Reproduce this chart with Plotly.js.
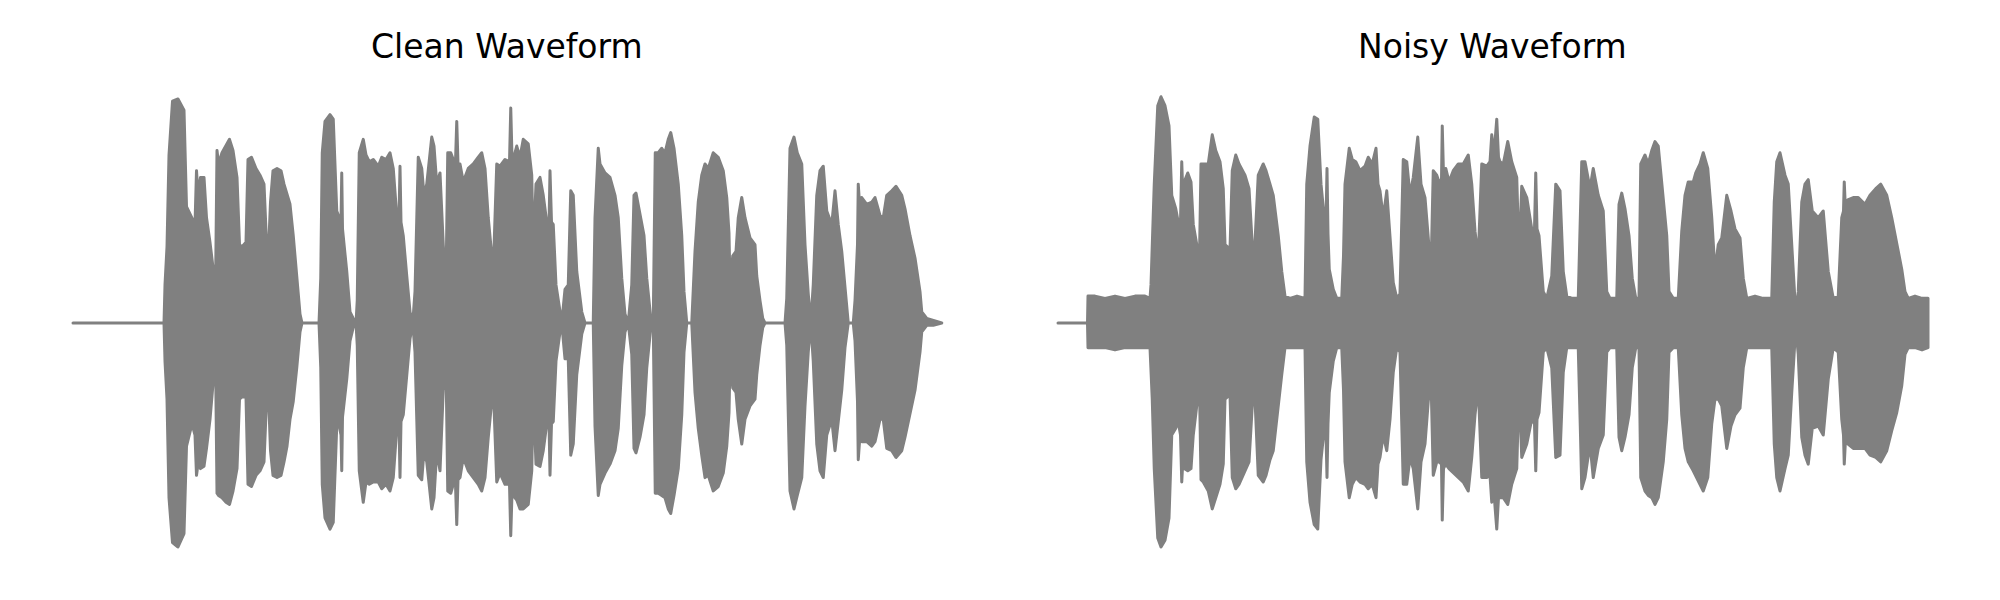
<!DOCTYPE html>
<html>
<head>
<meta charset="utf-8">
<script src="https://cdn.plot.ly/plotly-3.0.1.min.js"></script>
<style>html,body{margin:0;padding:0;background:#fff;}#chart{width:2000px;height:600px;}#chart path.js-line{stroke-linejoin:round;stroke-linecap:round;}</style>
</head>
<body>
<div id="chart"></div>
<script>
// Panel titles
const titles = ["Clean Waveform", "Noisy Waveform"];

// Clean waveform envelope (time in ms, amplitude normalised)
const cleanT = [0,364,368,376,384,398,420,444,454,476,488,494,500,510,524,534,548,564,570,576,582,596,612,626,640,656,666,676,692,700,714,732,748,764,774,782,790,800,816,832,844,856,868,881,895,908,916,984,991,997,1008,1028,1041,1055,1065,1072,1075,1078,1095,1108,1121,1132,1137,1145,1161,1172,1185,1201,1221,1235,1252,1268,1281,1295,1304,1308,1312,1321,1335,1348,1359,1368,1381,1395,1404,1415,1435,1444,1455,1468,1481,1492,1499,1511,1521,1530,1535,1540,1548,1561,1581,1601,1621,1635,1648,1661,1681,1695,1708,1728,1746,1751,1756,1761,1775,1788,1801,1821,1835,1841,1852,1868,1881,1895,1904,1908,1914,1921,1932,1948,1955,1968,1981,1991,2001,2015,2035,2048,2081,2088,2101,2108,2128,2148,2168,2181,2195,2208,2221,2235,2244,2252,2268,2284,2295,2311,2321,2329,2341,2355,2368,2381,2391,2404,2421,2435,2444,2455,2475,2488,2501,2515,2528,2541,2561,2581,2601,2615,2624,2628,2639,2652,2661,2675,2688,2708,2728,2735,2748,2759,2768,2848,2855,2868,2884,2897,2915,2928,2941,2951,2961,2975,2988,3001,3015,3035,3048,3061,3075,3088,3101,3121,3128,3138,3141,3148,3155,3175,3195,3208,3228,3241,3255,3275,3292,3315,3328,3348,3368,3388,3395,3415,3441,3475];
const cleanTop = [0,0,0.17,0.34,0.75,0.99,1.00,0.95,0.52,0.47,0.44,0.68,0.57,0.65,0.65,0.47,0.36,0.21,0.14,0.77,0.71,0.76,0.79,0.82,0.77,0.65,0.35,0.34,0.36,0.73,0.74,0.69,0.66,0.62,0.36,0.32,0.54,0.68,0.69,0.68,0.62,0.58,0.53,0.39,0.20,0.04,0,0,0.20,0.76,0.90,0.93,0.91,0.50,0.47,0.45,0.67,0.42,0.23,0.05,0.02,0,0.10,0.76,0.82,0.75,0.72,0.73,0.70,0.74,0.73,0.76,0.69,0.48,0.47,0.70,0.45,0.39,0.21,0.05,0,0.14,0.74,0.69,0.57,0.62,0.83,0.79,0.62,0.67,0.35,0.17,0.76,0.76,0.73,0.72,0.90,0.71,0.71,0.63,0.69,0.71,0.74,0.76,0.69,0.47,0.23,0.71,0.70,0.73,0.72,0.96,0.74,0.73,0.79,0.74,0.82,0.80,0.66,0.32,0.62,0.65,0.57,0.45,0.43,0.68,0.45,0.44,0.17,0.04,0,0.15,0.17,0.59,0.57,0.23,0.05,0,0,0.47,0.78,0.71,0.67,0.65,0.57,0.47,0.20,0.04,0,0.17,0.57,0.58,0.48,0.39,0.20,0.02,0,0.76,0.76,0.78,0.76,0.82,0.85,0.78,0.62,0.39,0.14,0,0,0.32,0.54,0.66,0.71,0.69,0.76,0.74,0.68,0.56,0.40,0.17,0.30,0.32,0.47,0.56,0.47,0.38,0.35,0.21,0.10,0.02,0,0,0.11,0.78,0.83,0.76,0.71,0.35,0.13,0,0.17,0.57,0.68,0.70,0.50,0.44,0.59,0.44,0.32,0.14,0,0,0.10,0.35,0.62,0.50,0.56,0.53,0.54,0.56,0.48,0.47,0.57,0.59,0.61,0.57,0.51,0.39,0.29,0.14,0.05,0.02,0.01,0];
const cleanBottom = [0,0,-0.17,-0.34,-0.78,-0.98,-1.00,-0.94,-0.55,-0.45,-0.50,-0.68,-0.63,-0.65,-0.64,-0.56,-0.43,-0.22,-0.14,-0.76,-0.77,-0.78,-0.80,-0.81,-0.75,-0.65,-0.34,-0.33,-0.33,-0.72,-0.73,-0.68,-0.66,-0.62,-0.35,-0.32,-0.57,-0.68,-0.69,-0.68,-0.62,-0.55,-0.43,-0.35,-0.20,-0.04,0,0,-0.20,-0.72,-0.87,-0.92,-0.89,-0.46,-0.46,-0.50,-0.66,-0.42,-0.25,-0.08,-0.02,0,-0.10,-0.66,-0.80,-0.71,-0.72,-0.71,-0.71,-0.74,-0.72,-0.75,-0.69,-0.47,-0.45,-0.69,-0.44,-0.41,-0.25,-0.07,0,-0.13,-0.68,-0.70,-0.57,-0.62,-0.83,-0.78,-0.57,-0.66,-0.30,-0.18,-0.75,-0.76,-0.72,-0.72,-0.90,-0.70,-0.69,-0.60,-0.66,-0.69,-0.72,-0.75,-0.69,-0.51,-0.28,-0.71,-0.67,-0.72,-0.72,-0.95,-0.76,-0.77,-0.79,-0.83,-0.83,-0.81,-0.66,-0.31,-0.63,-0.64,-0.57,-0.45,-0.44,-0.68,-0.45,-0.44,-0.17,-0.04,0,-0.16,-0.16,-0.59,-0.54,-0.23,-0.05,0,0,-0.46,-0.77,-0.72,-0.67,-0.63,-0.57,-0.47,-0.19,-0.04,0,-0.14,-0.56,-0.58,-0.51,-0.41,-0.20,-0.02,0,-0.76,-0.76,-0.77,-0.78,-0.83,-0.85,-0.77,-0.65,-0.41,-0.13,0,0,-0.31,-0.47,-0.59,-0.69,-0.68,-0.75,-0.73,-0.67,-0.55,-0.40,-0.17,-0.29,-0.31,-0.43,-0.54,-0.43,-0.37,-0.34,-0.23,-0.10,-0.02,0,0,-0.10,-0.75,-0.83,-0.77,-0.69,-0.37,-0.13,0,-0.17,-0.54,-0.66,-0.69,-0.50,-0.43,-0.57,-0.44,-0.30,-0.11,0,0,-0.08,-0.35,-0.61,-0.50,-0.53,-0.53,-0.55,-0.53,-0.43,-0.43,-0.56,-0.57,-0.60,-0.57,-0.51,-0.41,-0.30,-0.13,-0.04,-0.01,-0.01,0];

// Noisy waveform envelope (time in ms, amplitude normalised)
const noisyT = [0,118,120,148,188,228,268,308,348,368,372,377,385,399,412,428,444,455,471,481,490,495,500,505,519,532,541,555,565,572,581,601,617,631,648,661,668,688,697,711,724,748,764,777,788,801,821,832,848,861,881,895,908,928,956,988,995,1008,1025,1039,1052,1065,1072,1076,1080,1085,1101,1115,1135,1142,1148,1165,1177,1191,1208,1228,1241,1257,1272,1280,1288,1301,1315,1328,1341,1355,1368,1381,1395,1408,1421,1439,1452,1468,1481,1492,1501,1515,1524,1534,1537,1542,1551,1564,1581,1601,1621,1641,1655,1668,1681,1695,1715,1728,1735,1744,1755,1762,1768,1781,1799,1815,1835,1844,1855,1875,1895,1906,1911,1916,1924,1941,1955,1975,1991,2008,2021,2035,2056,2081,2090,2095,2108,2128,2141,2161,2181,2195,2208,2235,2244,2255,2268,2284,2297,2311,2324,2331,2348,2361,2375,2388,2401,2421,2435,2444,2461,2481,2495,2508,2521,2541,2551,2568,2581,2599,2615,2628,2641,2655,2675,2692,2708,2728,2741,2755,2788,2820,2855,2865,2875,2888,2908,2921,2935,2951,2961,2975,2988,3001,3017,3041,3061,3081,3101,3121,3135,3142,3145,3150,3159,3181,3201,3228,3248,3271,3291,3315,3335,3355,3375,3388,3401,3428,3456,3480];
const noisyTop = [0,0,0.12,0.12,0.11,0.12,0.11,0.12,0.12,0.11,0.17,0.36,0.62,0.97,1.01,0.97,0.88,0.57,0.51,0.45,0.45,0.72,0.55,0.63,0.67,0.63,0.44,0.35,0.23,0.71,0.71,0.71,0.84,0.77,0.72,0.60,0.35,0.33,0.68,0.75,0.71,0.66,0.60,0.35,0.36,0.66,0.71,0.68,0.62,0.57,0.39,0.23,0.12,0.11,0.12,0.11,0.62,0.79,0.92,0.91,0.62,0.47,0.45,0.69,0.40,0.24,0.15,0.11,0.11,0.30,0.62,0.78,0.73,0.72,0.68,0.70,0.74,0.71,0.78,0.62,0.59,0.47,0.59,0.38,0.18,0.11,0.13,0.73,0.72,0.57,0.65,0.83,0.62,0.56,0.38,0.23,0.68,0.66,0.63,0.64,0.88,0.66,0.69,0.63,0.68,0.71,0.71,0.75,0.62,0.41,0.29,0.71,0.70,0.72,0.84,0.75,0.91,0.74,0.72,0.71,0.81,0.72,0.65,0.29,0.61,0.56,0.42,0.42,0.67,0.42,0.39,0.14,0.11,0.21,0.62,0.59,0.23,0.12,0.11,0.11,0.50,0.72,0.72,0.60,0.69,0.57,0.50,0.14,0.11,0.11,0.53,0.58,0.51,0.39,0.20,0.11,0.11,0.71,0.75,0.71,0.77,0.81,0.79,0.57,0.39,0.14,0.11,0.11,0.41,0.57,0.63,0.63,0.67,0.71,0.76,0.69,0.47,0.23,0.35,0.38,0.57,0.50,0.42,0.38,0.20,0.11,0.12,0.11,0.11,0.54,0.72,0.76,0.66,0.62,0.32,0.04,0.14,0.54,0.62,0.64,0.50,0.47,0.50,0.23,0.11,0.12,0.47,0.50,0.63,0.50,0.55,0.56,0.56,0.53,0.57,0.60,0.62,0.57,0.47,0.36,0.24,0.14,0.11,0.12,0.11,0.11];
const noisyBottom = [0,0,-0.11,-0.11,-0.11,-0.12,-0.11,-0.11,-0.11,-0.11,-0.17,-0.34,-0.65,-0.96,-1.00,-0.97,-0.87,-0.50,-0.47,-0.44,-0.50,-0.71,-0.60,-0.65,-0.66,-0.65,-0.50,-0.37,-0.22,-0.70,-0.71,-0.75,-0.83,-0.78,-0.72,-0.63,-0.34,-0.32,-0.69,-0.74,-0.72,-0.66,-0.62,-0.37,-0.34,-0.68,-0.71,-0.68,-0.61,-0.57,-0.37,-0.23,-0.11,-0.11,-0.11,-0.11,-0.62,-0.80,-0.90,-0.92,-0.61,-0.47,-0.50,-0.69,-0.45,-0.31,-0.17,-0.11,-0.11,-0.30,-0.62,-0.78,-0.72,-0.69,-0.71,-0.72,-0.74,-0.72,-0.78,-0.63,-0.60,-0.50,-0.57,-0.43,-0.22,-0.11,-0.13,-0.72,-0.72,-0.60,-0.65,-0.83,-0.62,-0.54,-0.35,-0.25,-0.68,-0.62,-0.62,-0.63,-0.88,-0.65,-0.63,-0.65,-0.67,-0.69,-0.71,-0.75,-0.60,-0.41,-0.28,-0.69,-0.69,-0.68,-0.80,-0.76,-0.92,-0.78,-0.78,-0.78,-0.81,-0.72,-0.65,-0.28,-0.60,-0.54,-0.43,-0.45,-0.66,-0.43,-0.40,-0.13,-0.11,-0.20,-0.60,-0.59,-0.22,-0.11,-0.11,-0.11,-0.50,-0.74,-0.69,-0.54,-0.69,-0.56,-0.50,-0.13,-0.11,-0.11,-0.51,-0.57,-0.51,-0.41,-0.20,-0.11,-0.11,-0.69,-0.75,-0.77,-0.78,-0.81,-0.78,-0.62,-0.43,-0.13,-0.11,-0.11,-0.41,-0.56,-0.62,-0.66,-0.68,-0.72,-0.75,-0.69,-0.45,-0.34,-0.34,-0.37,-0.56,-0.46,-0.41,-0.38,-0.20,-0.11,-0.11,-0.11,-0.11,-0.54,-0.69,-0.75,-0.65,-0.59,-0.31,-0.02,-0.14,-0.51,-0.59,-0.63,-0.47,-0.46,-0.50,-0.25,-0.11,-0.13,-0.43,-0.50,-0.63,-0.52,-0.54,-0.56,-0.56,-0.56,-0.59,-0.60,-0.62,-0.57,-0.48,-0.40,-0.28,-0.14,-0.11,-0.11,-0.12,-0.11];

const GRAY = "#808080";

function envelope(t, top, bottom, xa, ya) {
  return {
    type: "scatter",
    mode: "lines",
    x: t.concat(t.slice().reverse()),
    y: top.concat(bottom.slice().reverse()),
    xaxis: xa,
    yaxis: ya,
    fill: "toself",
    fillcolor: GRAY,
    line: { color: GRAY, width: 3 },
    hoverinfo: "skip"
  };
}

const data = [
  envelope(cleanT, cleanTop, cleanBottom, "x", "y"),
  envelope(noisyT, noisyTop, noisyBottom, "x2", "y2")
];

const hidden = { visible: false, showgrid: false, zeroline: false, fixedrange: true };
const layout = {
  width: 2000,
  height: 600,
  margin: { l: 0, r: 0, t: 0, b: 0, pad: 0 },
  paper_bgcolor: "#ffffff",
  plot_bgcolor: "#ffffff",
  showlegend: false,
  xaxis: Object.assign({ domain: [0, 0.5], range: [-292, 3708], anchor: "y" }, hidden),
  yaxis: Object.assign({ domain: [0, 1], range: [-1.2366, 1.442], anchor: "x" }, hidden),
  xaxis2: Object.assign({ domain: [0.5, 1], range: [-232, 3768], anchor: "y2" }, hidden),
  yaxis2: Object.assign({ domain: [0, 1], range: [-1.2366, 1.442], anchor: "x2" }, hidden),
  annotations: [
    { text: titles[0], xref: "paper", yref: "paper", x: 0.25375, y: 1 - 46 / 600, xanchor: "center", yanchor: "middle", showarrow: false, font: { family: "DejaVu Sans", size: 33, color: "#000000" } },
    { text: titles[1], xref: "paper", yref: "paper", x: 0.74625, y: 1 - 46 / 600, xanchor: "center", yanchor: "middle", showarrow: false, font: { family: "DejaVu Sans", size: 33, color: "#000000" } }
  ]
};

Plotly.newPlot("chart", data, layout, { staticPlot: true, displayModeBar: false });
</script>
</body>
</html>
